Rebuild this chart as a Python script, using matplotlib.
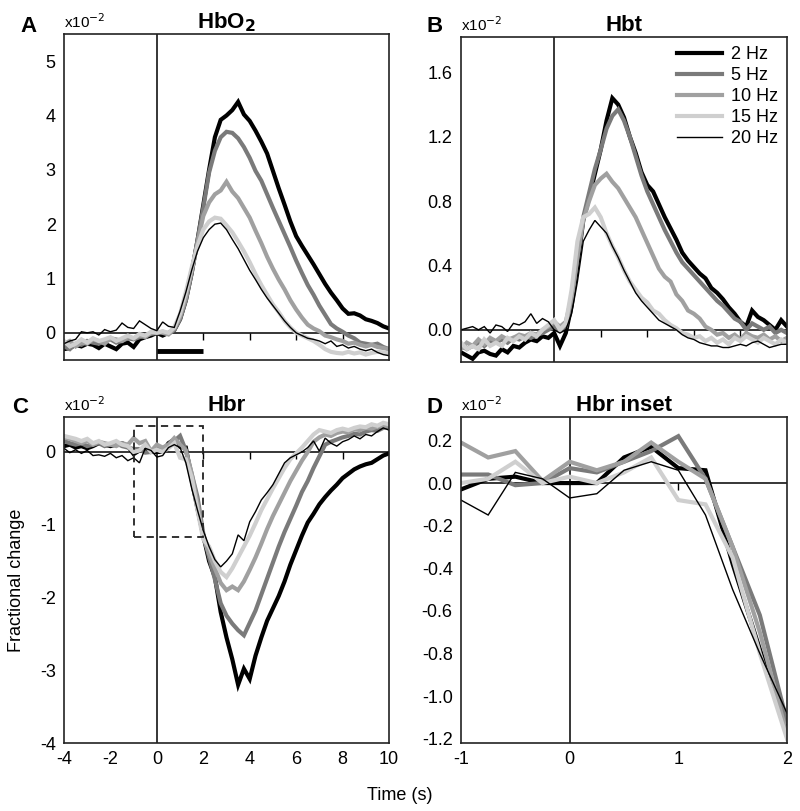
import numpy as np
import matplotlib
matplotlib.use('Agg')
import matplotlib.pyplot as plt
from matplotlib.patches import Rectangle

plt.rcParams['font.family'] = ['Liberation Sans', 'DejaVu Sans']
plt.rcParams['axes.unicode_minus'] = False

# time axis, 0.25 s steps from -4 to 10 s
time_s = np.linspace(-4, 10, 57)

labels = ['2 Hz', '5 Hz', '10 Hz', '15 Hz', '20 Hz']
colors = ['#000000', '#7a7a7a', '#a0a0a0', '#cfcfcf', '#000000']
widths = [3.0, 3.0, 3.0, 3.0, 1.0]

# HbO2 (x10^-2)
hbo2_2hz = [-0.3, -0.28, -0.22, -0.25, -0.2, -0.22, -0.28, -0.2, -0.25, -0.3, -0.2, -0.18, -0.26, -0.12, -0.08, -0.05, 0.0,
            -0.05, 0.0, 0.05, 0.25, 0.6, 1.1, 1.7, 2.35, 3.0, 3.6, 3.92, 4.0, 4.1, 4.25, 4.02, 3.9, 3.72, 3.52, 3.3,
            2.98, 2.66, 2.36, 2.05, 1.78, 1.6, 1.43, 1.26, 1.08, 0.9, 0.74, 0.6, 0.45, 0.35, 0.36, 0.32, 0.25, 0.22,
            0.18, 0.12, 0.08]
hbo2_5hz = [-0.25, -0.3, -0.2, -0.22, -0.15, -0.18, -0.2, -0.15, -0.12, -0.18, -0.15, -0.1, -0.12, -0.08, -0.05, -0.02, 0.0,
            0.02, -0.02, 0.05, 0.25, 0.6, 1.1, 1.7, 2.3, 2.95, 3.35, 3.6, 3.7, 3.68, 3.58, 3.42, 3.22, 2.98, 2.8, 2.55,
            2.3, 2.06, 1.82, 1.58, 1.33, 1.1, 0.88, 0.7, 0.5, 0.33, 0.16, 0.08, 0.02, -0.05, -0.1, -0.18, -0.2, -0.22,
            -0.2, -0.26, -0.3]
hbo2_10hz = [-0.2, -0.15, -0.25, -0.18, -0.2, -0.12, -0.15, -0.2, -0.1, -0.12, -0.15, -0.08, -0.1, -0.05, -0.08, 0.0, 0.02,
             0.0, -0.03, 0.08, 0.3, 0.65, 1.15, 1.65, 2.15, 2.4, 2.55, 2.62, 2.78, 2.6, 2.48, 2.3, 2.12, 1.88, 1.65, 1.4,
             1.18, 0.98, 0.8, 0.6, 0.43, 0.28, 0.15, 0.08, 0.03, -0.05, -0.08, -0.12, -0.15, -0.2, -0.18, -0.22, -0.25,
             -0.22, -0.26, -0.28, -0.3]
hbo2_15hz = [-0.15, -0.25, -0.2, -0.12, -0.18, -0.1, -0.15, -0.12, -0.08, -0.15, -0.1, -0.05, -0.1, -0.02, -0.05, 0.02, 0.0,
             0.03, 0.0, 0.1, 0.35, 0.75, 1.2, 1.6, 1.9, 2.05, 2.12, 2.1, 1.98, 1.85, 1.68, 1.5, 1.3, 1.08, 0.88, 0.7,
             0.52, 0.38, 0.22, 0.1, 0.0, -0.05, -0.1, -0.15, -0.22, -0.3, -0.35, -0.37, -0.38, -0.35, -0.38, -0.36, -0.4,
             -0.37, -0.35, -0.36, -0.38]
hbo2_20hz = [-0.2, -0.15, -0.12, 0.02, 0.0, 0.02, -0.04, 0.06, 0.02, 0.05, 0.18, 0.1, 0.08, 0.22, 0.15, 0.08, 0.04,
             0.2, 0.12, 0.1, 0.4, 0.75, 1.15, 1.5, 1.75, 1.9, 2.0, 2.02, 1.9, 1.72, 1.55, 1.35, 1.15, 0.98, 0.8, 0.64,
             0.5, 0.36, 0.22, 0.1, 0.0, -0.05, -0.1, -0.12, -0.15, -0.2, -0.15, -0.25, -0.22, -0.28, -0.25, -0.3, -0.33,
             -0.3, -0.36, -0.4, -0.42]

# Hbt (x10^-2)
hbt_2hz = [-0.14, -0.16, -0.18, -0.14, -0.13, -0.15, -0.16, -0.12, -0.14, -0.1, -0.11, -0.08, -0.06, -0.07, -0.04, -0.05, -0.02,
           -0.1, -0.02, 0.15, 0.4, 0.68, 0.82, 0.97, 1.12, 1.3, 1.44, 1.4, 1.32, 1.2, 1.1, 0.98, 0.9, 0.86, 0.78, 0.7,
           0.63, 0.56, 0.48, 0.43, 0.39, 0.35, 0.32, 0.26, 0.23, 0.19, 0.14, 0.1, 0.05, 0.02, 0.12, 0.08, 0.06, 0.03,
           0.0, 0.06, 0.02]
hbt_5hz = [-0.1, -0.12, -0.1, -0.08, -0.1, -0.07, -0.08, -0.06, -0.08, -0.05, -0.06, -0.04, -0.05, -0.03, -0.02, 0.0, 0.02,
           0.0, 0.02, 0.18, 0.45, 0.7, 0.85, 1.0, 1.12, 1.25, 1.33, 1.37, 1.3, 1.2, 1.08, 0.96, 0.86, 0.78, 0.7, 0.62,
           0.55, 0.48, 0.42, 0.38, 0.34, 0.3, 0.26, 0.22, 0.18, 0.15, 0.11, 0.07, 0.05, 0.0, 0.04, 0.02, 0.0, 0.02,
           -0.02, 0.0, -0.02]
hbt_10hz = [-0.12, -0.08, -0.1, -0.06, -0.09, -0.05, -0.07, -0.04, -0.06, -0.05, -0.03, -0.04, -0.02, -0.03, 0.0, 0.02, 0.05,
            0.02, 0.05, 0.2, 0.45, 0.68, 0.8, 0.9, 0.94, 0.97, 0.92, 0.88, 0.82, 0.76, 0.7, 0.62, 0.54, 0.46, 0.38, 0.33,
            0.3, 0.22, 0.18, 0.12, 0.1, 0.07, 0.02, 0.0, -0.03, -0.02, -0.05, -0.03, -0.06, -0.02, -0.04, -0.05, -0.03,
            -0.06, -0.04, -0.07, -0.05]
hbt_15hz = [-0.08, -0.12, -0.1, -0.12, -0.06, -0.1, -0.08, -0.1, -0.05, -0.07, -0.04, -0.06, -0.02, -0.04, 0.0, 0.03, 0.06,
            0.0, 0.04, 0.25, 0.55, 0.7, 0.72, 0.76, 0.7, 0.6, 0.52, 0.45, 0.37, 0.3, 0.25, 0.2, 0.17, 0.12, 0.1, 0.06,
            0.03, 0.01, -0.02, -0.03, -0.05, -0.04, -0.07, -0.05, -0.08, -0.06, -0.09, -0.05, -0.07, -0.04, -0.06, -0.08,
            -0.05, -0.07, -0.09, -0.06, -0.08]
hbt_20hz = [0.0, 0.01, 0.02, 0.0, 0.02, -0.02, 0.03, 0.02, -0.01, 0.04, 0.03, 0.05, 0.1, 0.04, 0.07, 0.05, 0.0,
            -0.02, 0.0, 0.1, 0.3, 0.55, 0.62, 0.68, 0.64, 0.6, 0.52, 0.45, 0.37, 0.3, 0.23, 0.18, 0.14, 0.1, 0.06, 0.04,
            0.02, 0.0, -0.03, -0.05, -0.06, -0.08, -0.09, -0.1, -0.1, -0.11, -0.11, -0.1, -0.09, -0.1, -0.08, -0.07,
            -0.09, -0.11, -0.1, -0.09, -0.09]

# Hbr (x10^-2)
hbr_2hz = [0.08, 0.1, 0.06, 0.08, 0.05, 0.08, 0.12, 0.1, 0.08, 0.1, 0.12, 0.08,
           -0.03, 0.02, 0.03, 0.0, 0.0, 0.0, 0.12, 0.17, 0.07, 0.06, -0.38, -0.78, -1.15,
           -1.5, -1.72, -2.2, -2.55, -2.85, -3.2, -2.98, -3.12, -2.8, -2.55, -2.32, -2.15, -1.98, -1.78, -1.55, -1.35,
           -1.15, -0.97, -0.85, -0.72, -0.62, -0.53, -0.45, -0.36, -0.3, -0.24, -0.2, -0.17, -0.15, -0.1, -0.05, -0.02]
hbr_5hz = [0.15, 0.12, 0.1, 0.12, 0.08, 0.1, 0.12, 0.08, 0.1, 0.12, 0.08, 0.06,
           0.04, 0.04, -0.01, 0.0, 0.07, 0.05, 0.1, 0.15, 0.22, 0.02, -0.3, -0.62, -1.12,
           -1.45, -1.75, -2.08, -2.25, -2.36, -2.45, -2.52, -2.35, -2.18, -1.96, -1.74, -1.52, -1.3, -1.1, -0.92, -0.74,
           -0.55, -0.4, -0.22, -0.06, 0.1, 0.14, 0.17, 0.2, 0.22, 0.25, 0.24, 0.28, 0.3, 0.29, 0.33, 0.35]
hbr_10hz = [0.2, 0.18, 0.15, 0.12, 0.15, 0.1, 0.14, 0.12, 0.1, 0.08, 0.12, 0.1,
            0.19, 0.12, 0.15, 0.01, 0.1, 0.06, 0.1, 0.19, 0.1, 0.02, -0.3, -0.7, -1.18,
            -1.4, -1.6, -1.8, -1.9, -1.85, -1.9, -1.78, -1.62, -1.45, -1.26, -1.06, -0.88, -0.72, -0.56, -0.4, -0.26,
            -0.12, 0.0, 0.14, 0.2, 0.24, 0.22, 0.26, 0.28, 0.27, 0.31, 0.3, 0.33, 0.32, 0.35, 0.36, 0.36]
hbr_15hz = [0.22, 0.2, 0.18, 0.15, 0.18, 0.12, 0.15, 0.1, 0.12, 0.15, 0.1, 0.08,
            0.0, 0.02, 0.1, 0.0, 0.03, 0.0, 0.05, 0.12, -0.08, -0.1, -0.35, -0.8, -1.2,
            -1.3, -1.5, -1.65, -1.72, -1.6, -1.45, -1.3, -1.15, -0.98, -0.8, -0.65, -0.5, -0.36, -0.22, -0.1, -0.02,
            0.06, 0.15, 0.24, 0.3, 0.28, 0.26, 0.3, 0.32, 0.3, 0.33, 0.35, 0.34, 0.38, 0.36, 0.4, 0.38]
hbr_20hz = [0.05, -0.01, 0.03, -0.02, 0.02, -0.05, -0.04, -0.06, -0.02, -0.08, -0.05, -0.12,
            -0.08, -0.15, 0.05, 0.02, -0.07, -0.05, 0.06, 0.1, 0.06, -0.15, -0.5, -0.8, -1.08,
            -1.3, -1.48, -1.58, -1.5, -1.4, -1.14, -1.22, -0.96, -0.82, -0.66, -0.56, -0.45, -0.3, -0.15, -0.08, -0.04,
            0.0, 0.06, 0.15, 0.01, 0.19, 0.12, 0.08, 0.14, 0.17, 0.22, 0.18, 0.24, 0.22, 0.28, 0.33, 0.3]

hbo2 = [hbo2_2hz, hbo2_5hz, hbo2_10hz, hbo2_15hz, hbo2_20hz]
hbt = [hbt_2hz, hbt_5hz, hbt_10hz, hbt_15hz, hbt_20hz]
hbr = [hbr_2hz, hbr_5hz, hbr_10hz, hbr_15hz, hbr_20hz]

stim_on, stim_off = 0, 2
inset_t = (-1, 2)
inset_box_y = (-1.17, 0.35)

fig = plt.figure(figsize=(8, 8.11), dpi=100)
W, H = 800, 811


def make_ax(left, top, right, bottom):
    return fig.add_axes([left / W, 1 - bottom / H, (right - left) / W, (bottom - top) / H])


axA = make_ax(64, 34, 389, 360)
axB = make_ax(461, 37, 787, 362)
axC = make_ax(64, 417, 389, 743)
axD = make_ax(461, 417, 787, 743)


def draw(ax, series, mask=None):
    for vals, c, lw, lab in zip(series, colors, widths, labels):
        v = np.array(vals)
        t = time_s
        if mask is not None:
            t, v = t[mask], v[mask]
        ax.plot(t, v, color=c, lw=lw, label=lab, solid_joinstyle='miter')


draw(axA, hbo2)
draw(axB, hbt)
draw(axC, hbr)
m = (time_s >= inset_t[0] - 1e-9) & (time_s <= inset_t[1] + 1e-9)
draw(axD, hbr, mask=m)

for ax in (axA, axB, axC, axD):
    ax.axhline(0, color='black', lw=1.1, zorder=1)
    ax.axvline(0, color='black', lw=1.1, zorder=1)
    for s in ax.spines.values():
        s.set_linewidth(1.2)
        s.set_color('#222222')
    ax.tick_params(length=0, labelsize=13, pad=6)

for ax in (axA, axB, axC):
    ax.set_xlim(-4, 10)
axD.set_xlim(-1, 2)

# small ticks hanging below the zero line
for ax in (axA, axB, axC):
    ax.plot([2, 4, 6, 8], [0, 0, 0, 0], ls='', marker=3, ms=5, mew=1, color='black', zorder=1)
axD.plot([1], [0], ls='', marker=3, ms=5, mew=1, color='black', zorder=1)

axA.set_ylim(-0.5, 5.5)
axA.set_yticks([0, 1, 2, 3, 4, 5])
axA.set_xticks([])
axA.plot([stim_on, stim_off], [-0.33, -0.33], color='black', lw=3.5, solid_capstyle='butt')

axB.set_ylim(-0.2, 1.82)
axB.set_yticks([0.0, 0.4, 0.8, 1.2, 1.6])
axB.set_yticklabels(['0.0', '0.4', '0.8', '1.2', '1.6'])
axB.set_xticks([])
axB.legend(loc='upper right', frameon=False, fontsize=13, handlelength=2.5, handletextpad=0.5,
           labelspacing=0.22, borderaxespad=0.1)

axC.set_ylim(-4, 0.48)
axC.set_yticks([0, -1, -2, -3, -4])
axC.set_xticks([-4, -2, 0, 2, 4, 6, 8, 10])
axC.add_patch(Rectangle((inset_t[0], inset_box_y[0]), inset_t[1] - inset_t[0],
                        inset_box_y[1] - inset_box_y[0], fill=False, ls=(0, (4, 3)),
                        lw=1.3, ec='#222222', zorder=5))

axD.set_ylim(-1.22, 0.31)
dy = [0.2, 0.0, -0.2, -0.4, -0.6, -0.8, -1.0, -1.2]
axD.set_yticks(dy)
axD.set_yticklabels(['%.1f' % v for v in dy])
axD.set_xticks([-1, 0, 1, 2])

titles = [(axA, 'HbO$_\\mathbf{2}$'), (axB, 'Hbt'), (axC, 'Hbr'), (axD, 'Hbr inset')]
for ax, ttl in titles:
    ax.set_title(ttl, fontsize=16, fontweight='bold', pad=4)
    ax.text(0.0, 1.01, 'x10$^{-2}$', transform=ax.transAxes, fontsize=11, ha='left', va='bottom')

for lt, x, y in [('A', 28, 27), ('B', 435, 27), ('C', 20, 408), ('D', 435, 408)]:
    fig.text(x / W, 1 - y / H, lt, fontsize=16, fontweight='bold', ha='center', va='center')

fig.text(17 / W, 1 - 580 / H, 'Fractional change', rotation=90, fontsize=13, ha='center', va='center')
fig.text(400 / W, 1 - 795 / H, 'Time (s)', fontsize=13, ha='center', va='center')

fig.savefig('out.png', dpi=100)
